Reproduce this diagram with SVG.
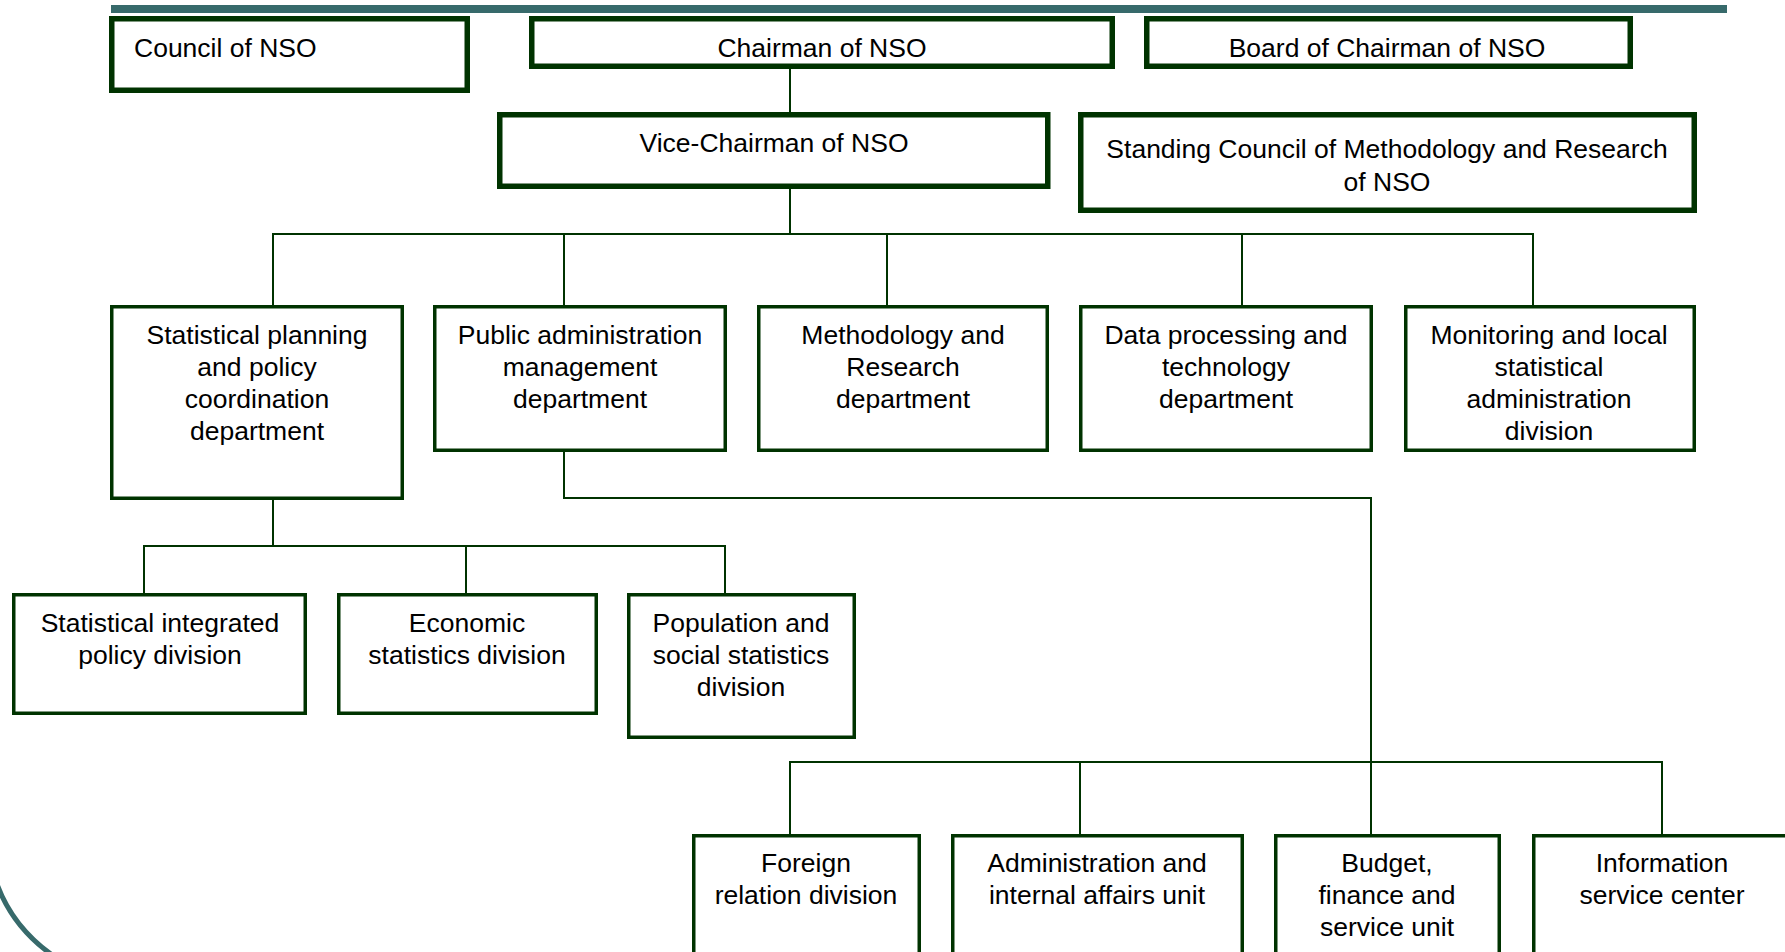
<svg xmlns="http://www.w3.org/2000/svg" width="1785" height="952" viewBox="0 0 1785 952">
<style>
.thick{fill:#ffffff;stroke:#003300;stroke-width:5.5}
.box{fill:#ffffff;stroke:#003300;stroke-width:3.5}
.con{fill:none;stroke:#003300;stroke-width:2}
text{font-family:"Liberation Sans",Arial,sans-serif;font-size:26.5px;fill:#000000}
.c{text-anchor:middle}
</style>
<rect x="0" y="0" width="1785" height="952" fill="#ffffff"/>
<rect x="111" y="5" width="1616" height="8" fill="#376a6b"/>
<path d="M -3 884 Q 13 928 55 957" fill="none" stroke="#376a6b" stroke-width="5"/>
<g id="connectors">
<path class="con" d="M790 68 V113"/>
<path class="con" d="M790 188 V234 M273 305 V234 H1533 V305 M564 234 V305 M887 234 V305 M1242 234 V305"/>
<path class="con" d="M273 500 V546 M144 593 V546 H725 V593 M466 546 V593"/>
<path class="con" d="M564 452 V498 H1371 V834 M790 834 V762 H1662 V834 M1080 762 V834"/>
</g>
<g id="council"><rect class="thick" x="111.75" y="18.75" width="355.5" height="71.5"/><text x="134" y="57">Council of NSO</text></g>
<g id="chairman"><rect class="thick" x="531.75" y="18.75" width="580.5" height="47.5"/><text class="c" x="822" y="57">Chairman of NSO</text></g>
<g id="board"><rect class="thick" x="1146.75" y="18.75" width="483.5" height="47.5"/><text class="c" x="1387" y="57">Board of Chairman of NSO</text></g>
<g id="vice"><rect class="thick" x="499.75" y="114.75" width="548" height="71.5"/><text class="c" x="774" y="152">Vice-Chairman of NSO</text></g>
<g id="standing"><rect class="thick" x="1080.75" y="114.75" width="613.5" height="95.5"/><text class="c" x="1387" y="158">Standing Council of Methodology and Research</text><text class="c" x="1387" y="191">of NSO</text></g>
<g id="planning"><rect class="box" x="111.75" y="306.75" width="290.5" height="191.5"/><text class="c" x="257"><tspan x="257" y="344">Statistical planning</tspan><tspan x="257" y="376">and policy</tspan><tspan x="257" y="408">coordination</tspan><tspan x="257" y="440">department</tspan></text></g>
<g id="publicadmin"><rect class="box" x="434.75" y="306.75" width="290.5" height="143.5"/><text class="c" x="580"><tspan x="580" y="344">Public administration</tspan><tspan x="580" y="376">management</tspan><tspan x="580" y="408">department</tspan></text></g>
<g id="methodology"><rect class="box" x="758.75" y="306.75" width="288.5" height="143.5"/><text class="c" x="903"><tspan x="903" y="344">Methodology and</tspan><tspan x="903" y="376">Research</tspan><tspan x="903" y="408">department</tspan></text></g>
<g id="dataprocessing"><rect class="box" x="1080.75" y="306.75" width="290.5" height="143.5"/><text class="c" x="1226"><tspan x="1226" y="344">Data processing and</tspan><tspan x="1226" y="376">technology</tspan><tspan x="1226" y="408">department</tspan></text></g>
<g id="monitoring"><rect class="box" x="1405.75" y="306.75" width="288.5" height="143.5"/><text class="c" x="1549"><tspan x="1549" y="344">Monitoring and local</tspan><tspan x="1549" y="376">statistical</tspan><tspan x="1549" y="408">administration</tspan><tspan x="1549" y="440">division</tspan></text></g>
<g id="integrated"><rect class="box" x="13.75" y="594.75" width="291.5" height="118.5"/><text class="c" x="160"><tspan x="160" y="632">Statistical integrated</tspan><tspan x="160" y="664">policy division</tspan></text></g>
<g id="economic"><rect class="box" x="338.75" y="594.75" width="257.5" height="118.5"/><text class="c" x="467"><tspan x="467" y="632">Economic</tspan><tspan x="467" y="664">statistics division</tspan></text></g>
<g id="population"><rect class="box" x="628.75" y="594.75" width="225.5" height="142.5"/><text class="c" x="741"><tspan x="741" y="632">Population and</tspan><tspan x="741" y="664">social statistics</tspan><tspan x="741" y="696">division</tspan></text></g>
<g id="foreign"><rect class="box" x="693.75" y="835.75" width="225.5" height="160"/><text class="c" x="806"><tspan x="806" y="872">Foreign</tspan><tspan x="806" y="904">relation division</tspan></text></g>
<g id="administration"><rect class="box" x="952.75" y="835.75" width="289.5" height="160"/><text class="c" x="1097"><tspan x="1097" y="872">Administration and</tspan><tspan x="1097" y="904">internal affairs unit</tspan></text></g>
<g id="budget"><rect class="box" x="1275.75" y="835.75" width="223.5" height="160"/><text class="c" x="1387"><tspan x="1387" y="872">Budget,</tspan><tspan x="1387" y="904">finance and</tspan><tspan x="1387" y="936">service unit</tspan></text></g>
<g id="information"><rect class="box" x="1533.75" y="835.75" width="280" height="160"/><text class="c" x="1662"><tspan x="1662" y="872">Information</tspan><tspan x="1662" y="904">service center</tspan></text></g>
</svg>
